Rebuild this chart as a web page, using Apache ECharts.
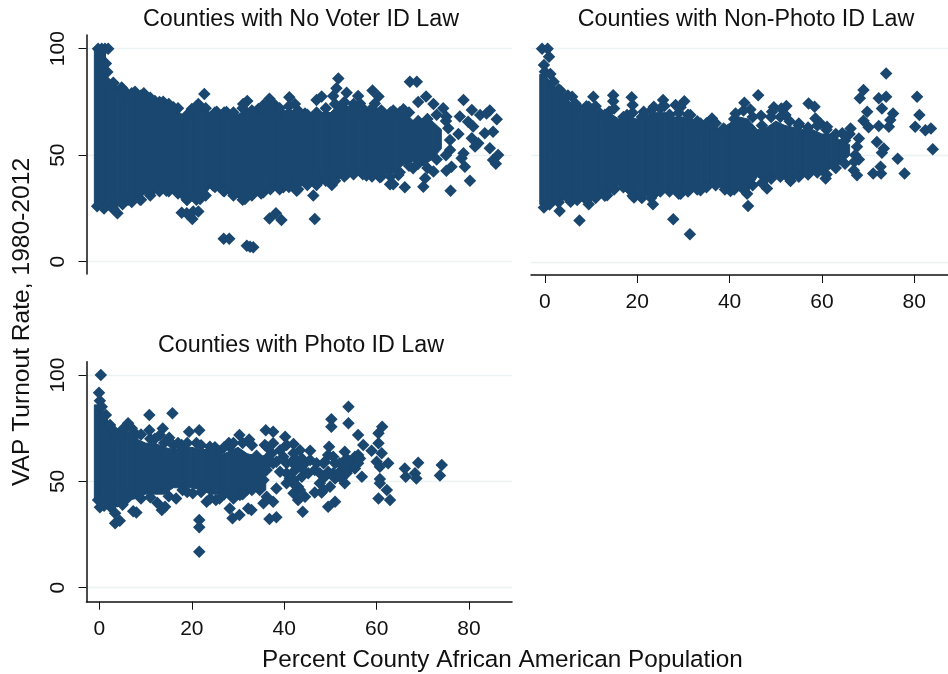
<!DOCTYPE html>
<html>
<head>
<meta charset="utf-8">
<style>html,body{margin:0;padding:0;background:#fff}#c{width:948px;height:674px}</style>
<script src="https://cdn.jsdelivr.net/npm/echarts@6/dist/echarts.min.js"></script>
</head>
<body>
<div id="c"></div>
<script>
const panelTitles = ['Counties with No Voter ID Law','Counties with Non-Photo ID Law','Counties with Photo ID Law'];
const xTitle = 'Percent County African American Population';
const yTitle = 'VAP Turnout Rate, 1980-2012';
const xTicks = [0,20,40,60,80];
const yTicks = [0,50,100];

// saturated core of each panel, where markers merge: [x, lowest y, highest y]
const noIdCore = [[-1.1,25,100],[1.2,25,100],[1.6,25,87],[4,26,82],[6,29,79],[8,29,78],[10,32,77],[12,33,75],[14,33,74],[16,33,72],[18,29,69],[20,29,71],[22,29,72],[24,35,70],[26,33,70],[28,32,70],[30,30,69],[32,29,72],[34,32,71],[36,33,74],[38,34,72],[40,35,71],[42,33,71],[44,36,69],[46,36,69],[48,38,70],[50,38,70],[52,39,74],[54,41,73],[56,41,73],[58,40,69],[60,40,72],[62,41,70],[64,42,70],[66,46,70],[68,47,66],[70,45,66],[72,48,66],[74,53,62]];
const nonPhotoCore = [[-1.1,27,88],[0,27,88],[2,28,82],[4,29,78],[6,30,74],[8,29,72],[10,29,73],[12,31,69],[14,32,70],[16,36,67],[18,32,68],[20,31,67],[22,31,69],[24,30,70],[26,34,70],[28,32,68],[30,33,68],[32,34,67],[34,34,64],[36,36,65],[38,35,62],[40,34,65],[42,35,68],[44,33,67],[46,40,62],[48,37,63],[50,40,66],[52,39,64],[54,39,63],[56,41,62],[58,42,62],[60,41,60],[62,44,60],[64,46,57],[66,50,55]];
const photoCore = [[-1.1,42,86],[0,42,86],[2,39,78],[4,38,70],[6,41,74],[8,42,70],[10,44,68],[12,44,68],[14,44,66],[16,47,65],[18,47,66],[20,47,66],[22,46,65],[24,44,65],[26,44,62],[28,42,64],[30,43,66],[32,47,63],[34,48,62],[36,46,62]];

// individually visible counties: [percent African American, turnout]
const noIdPoints = [[-.3,100],[.5,100],[1.2,100],[1.9,100],[1.4,93],[1.7,89],[3,83.7],[4.8,81.8],[5.9,79],[7.7,79.8],[9.6,79],[12,75.4],[13.8,75.1],[16,72.5],[20,71.7],[21.4,74],[22.7,78.7],[25.4,70.4],[27.5,70.3],[32,75.4],[31.1,74],[34.4,71.7],[36.8,76.5],[35.5,73.5],[38,73.5],[41.1,77.2],[42.3,74],[44.5,69.6],[47,75.9],[48.1,77.5],[50.6,77.8],[51.7,86],[51.3,81.4],[53.5,79.3],[56,77.8],[56.4,74.3],[59.1,80.3],[60.4,77.5],[59.6,74.3],[67.2,84.5],[68.7,84.5],[70.7,77.5],[69,75],[72.3,74],[74.4,72],[65.8,71.5],[63.6,70.9],[61.4,70],[57.8,69.6],[75.1,68],[75.5,62.6],[75.9,57.1],[75.9,52.4],
[78.8,75.9],[78,68.1],[77.7,59.9],[80.6,71.2],[82.4,68.9],[84.5,70.9],[83.8,69.6],[86,66.8],[79.8,65.7],[80.9,63.4],[85.2,61],[83.4,60.3],[80.6,57.9],[82,55.6],[81.3,54],[78.8,50.9],[78.4,48.5],[79.1,44.6],[84.5,53.2],[86.3,50.1],[85.2,47.7],[85.8,45.9],[80.2,38],[76,33.3],[76.2,44.6],[75.1,42.7],[72.3,42.3],[67.9,43.8],[66.1,34.9],[70.1,35.2],[70.5,39.1],[63.6,36.3],[62.9,36.3],[64.7,40.7],
[50.3,36],[46.3,31],[46.6,20],[39.4,19.6],[38.2,22.7],[36.8,20.3],[20.1,20],[20.3,23.5],[17.8,23],[18.9,22.7],[21.4,23.5],[28.1,10.8],[26.9,10.8],[31.9,7.5],[33.3,6.7],[32.6,7],
[-.5,26],[.8,25.5],[2.6,25.5],[3.9,22.7],[6.2,29],[8.8,29],[10.9,32.4],[14.5,33.3],[16.7,33.3],[18.9,29],[21.8,29.4],[24.6,35.7],[26.8,33.3],[31.5,29.4],[29,32],[35.5,32.6],[39.8,34.9],[42.7,33.3],[47.7,38],[53.5,41.2],[57.8,40.4],[60.7,39.6],
[3,84],[5,81],[7,79],[9,78],[11,77],[13,75],[15,74],[17,72],[19,69],[21,73],[23,72],[25,70],[27,70],[29,70],[31,72],[33,71],[35,72],[37,75],[39,72],[41,73],[43,71],[45,69],[47,70],[49,72],[51,74],[53,75],[55,74],[57,72],[59,72],[61,71],[63,70],[65,70],[67,70],[69,66],[71,67],[73,69],[75,66],
[1,25],[3,25],[5,27],[7,28],[9,29],[11,31],[13,33],[15,33],[17,32],[19,29],[21,29],[23,31],[25,35],[27,33],[29,31],[31,29],[33,31],[35,32],[37,34],[39,34],[41,35],[43,34],[45,36],[47,36],[49,38],[51,38],[53,40],[55,41],[57,41],[59,40],[61,40],[63,40],[65,42],[67,45],[69,46],[71,44],[73,48],[75,50]];

const nonPhotoPoints = [[-.6,100],[.6,100],[.9,96.2],[-.2,92.3],[0,89.2],[1.2,88.1],[1.9,84.5],[3.4,80.3],[5.9,77.5],[6.6,74.3],[10.5,77.5],[9.5,72.8],[12,69.6],[14.8,78.2],[14.8,75.4],[13.9,70.4],[18.8,77.2],[19,73.6],[17.8,68.9],[21.4,70.4],[23.6,72.8],[25.6,75.9],[25.9,73.1],[28.3,73.6],[30.2,75.4],[29.4,72.5],[31.5,68.9],[33.7,64.9],[36.2,67.3],[38.7,62.6],[41.3,69.6],[43.2,74.6],[44.5,71.5],[46.2,78.2],[46.8,68.5],[49.6,72.5],[49.2,70.4],[52.3,73.1],[51.2,72],[52.1,68.9],[57.1,74.3],[58.4,72.8],[58.6,67.3],[55,64.9],[59.7,64.9],[61.1,63.4],[66.2,62.6],[64.4,60.3],[68,57.9],[67.6,54],[67.2,50.1],[67,47],[68,48],[66,60],[65,57],
[69,80.6],[68.2,76.7],[72.3,76.7],[73.9,77.5],[73.9,88.4],[73,72],[69.8,70.4],[69,66.2],[70.1,63.1],[72.3,63.7],[74.5,63.4],[75.4,69.6],[74.8,66.5],[71.9,56.3],[73.4,53.2],[73,51.2],[76.4,48.4],[72.7,44.6],[71.1,41.5],[72.8,41.5],[77.9,41.5],[80.6,77.5],[81.1,68.9],[80.2,63.4],[82.4,61.8],[83.6,62.6],[84,52.9],[67.6,40.7],[66.9,43],
[-.2,25.5],[3.2,23.9],[7.5,19.4],[5.6,28.2],[9.5,27.1],[13.5,31.3],[19.3,30.2],[23.4,27.1],[27.8,20],[31.4,13],[29.4,32],[33.7,33.6],[40.2,33.3],[44,26.3],[43.8,32],[48.1,34.4],[53.2,38],[60.8,39.1],
[3,81],[5,78],[7,73],[9,73],[11,73],[13,69],[15,72],[17,68],[19,70],[21,68],[23,71],[25,72],[27,69],[29,70],[31,69],[33,66],[35,65],[37,65],[39,62],[41,67],[43,71],[45,68],[47,64],[49,68],[51,68],[53,66],[55,64],[57,63],[59,64],[61,62],[63,60],[65,59],
[1,27],[3,28],[5,30],[7,29],[9,29],[11,30],[13,31],[15,34],[17,35],[19,31],[21,30],[23,30],[25,33],[27,33],[29,32],[31,33],[33,34],[35,35],[37,36],[39,34],[41,34],[43,34],[45,36],[47,37],[49,39],[51,40],[53,39],[55,40],[57,41],[59,42],[61,41],[63,44],[65,46]];

const photoPoints = [[.3,100],[-.1,91.7],[.1,87.9],[.5,85.1],[1.4,81.2],[2.3,76.5],[6.2,77.3],[5.2,74.9],[10.8,81.2],[15.8,82],[10.8,74.1],[13.7,74.9],[13.1,71.8],[15.1,70.5],[19.4,73.4],[21.6,74.1],[17.8,67.1],[23.9,66.3],[30.3,71.8],[32.4,69.7],[28.2,66.3],[36,74.1],[37.6,73.4],[40.2,71],[42,67.6],[35.8,67.1],[45.6,64.4],[49.7,66.3],[50.2,79.2],[50.2,75.7],[53.9,85.1],[53.9,77.3],[56,71.8],[57.1,67.1],[53.1,63.9],[58.9,64.4],[60.4,67.9],[60.4,72.6],[61.2,75.7],[61.1,63.2],[60,59.2],[62.5,58.5],[60.7,56.9],[56,62.4],[66.1,56.1],[66.3,52.2],[69,58.8],[68.3,53.8],[68.6,51.4],[74.1,57.7],[73.7,52.8],[60.7,51.1],[60.7,49.1],[62.2,45.9],[60.4,42],[62.9,41.2],[56.8,52.2],[53.1,49.1],[51,40.4],[49.5,38.1],[44,35.7],[44.5,42.8],[43,41.2],[47.7,49.1],[46.6,44.8],[48.1,44.8],[42,44.4],[43,47.5],[38.3,46.7],[38.3,33.1],[36.8,32.3],[37.6,40.4],[35.5,39.7],[32.2,37.3],[32.9,36.5],[30.3,34.2],[28.8,32.6],[28.2,37.3],[21.6,31.8],[21.6,28.4],[21.6,16.9],[25.2,41.2],[23.2,40.4],[20.2,44.4],[16.6,42],[13.5,36.5],[14.2,38.1],[8,35.4],[7.3,36],[3.4,30.3],[4.4,31.5],[3.4,35],[.1,37.8],[-.3,41.2],[30.4,43.6],[31.9,45.9],[29,42],
[36.2,66.3],[37.6,67.9],[39.1,64.7],[40.5,67.1],[42,63.2],[43.4,64.7],[36.2,60.8],[38.3,59.2],[40.5,58.5],[42.7,60],[44.5,58.5],[46.6,55.3],[42,54.5],[43.8,52.2],[41.2,51.4],[42.3,48.3],[43.4,45.9],[39.1,54.5],[36.2,55.3],[35.5,50.6],[34.7,45.9],[36.2,42.8],[49.5,62.4],[51,58.5],[48.5,58.5],[50.6,53.8],[52,54.5],[53.5,55.3],[54.9,58.5],[56.4,60.8],[55.3,61.6],[54.2,59.2],[53.5,60.8],[47.7,53.8],[49.9,47.5],[48.5,45.9],[51,51.4],[52.4,51.4],
[36.2,57.7],[37.3,63.2],[39.8,61.6],[41.6,59.2],[43.8,60.8],[45.6,60],[47,58.5],[43.8,56.1],[40.5,53.8],[37.6,58.5],[42.7,56.9],[45.2,53.8],[40.5,49.1],[42,50.6],[48.8,59.2],[50.6,61.6],[52,58.5],[54.2,56.1],[56,58.5],[55.3,56.1],[53.5,53.8],[52.8,56.9],[49.5,54.5],[48.8,52.2],
[1,38.5],[2.4,38],[5,39],[6,42],[9,42],[11,42.5],[12.5,40],[15,43],[18,46],[19,45],[22,45],[24,42],[26,42],[27,44],[29,43],[31,44],[33,46],[34,48],
[3,74],[4,72],[7,75],[8,72],[9,72],[11,70],[12,70],[14,68],[16,67],[17,68],[19,68],[21,68],[22,67],[25,66],[26,64],[27,66],[28,68],[29,68],[31,68],[33,67],[34,62]];

const NAVY = '#1a476f', GRID = '#eaf2f3', FONT = '"Liberation Sans", Arial, sans-serif';

function coreRenderer(core) {
  return function (params, api) {
    const next = core[params.dataIndex + 1];
    if (!next) return null;
    const cur = core[params.dataIndex];
    return { type:'polygon',
      shape:{ points:[ api.coord([cur[0],cur[2]]), api.coord([next[0],next[2]]), api.coord([next[0],next[1]]), api.coord([cur[0],cur[1]]) ] },
      style:{ fill:NAVY, stroke:NAVY, lineWidth:1 } };
  };
}
function pair(i, core, points) {
  return [
    { type:'custom', xAxisIndex:i, yAxisIndex:i, data:core, renderItem:coreRenderer(core), encode:{x:0,y:[1,2]}, silent:true, clip:false },
    { type:'scatter', xAxisIndex:i, yAxisIndex:i, data:points, symbol:'diamond', symbolSize:12.5, itemStyle:{color:NAVY, opacity:1}, silent:true, clip:false }
  ];
}
function xAxis(i, min, max, show) {
  return { type:'value', gridIndex:i, min, max, show,
    axisLine:{show:true, onZero:false, lineStyle:{color:'#111', width:1.5}},
    axisTick:{show:true, length:8, lineStyle:{color:'#111', width:1}, customValues:xTicks},
    axisLabel:{show:true, color:'#111', fontFamily:FONT, fontSize:21, margin:17, customValues:xTicks},
    splitLine:{show:false} };
}
function yAxis(i, min, max, showAxis) {
  return { type:'value', gridIndex:i, min, max,
    axisLine:{show:showAxis, onZero:false, lineStyle:{color:'#111', width:1.5}},
    axisTick:{show:showAxis, length:8, lineStyle:{color:'#111', width:1}, customValues:yTicks},
    axisLabel:{show:showAxis, rotate:90, color:'#111', fontFamily:FONT, fontSize:21, margin:18, customValues:yTicks},
    splitLine:{show:true, lineStyle:{color:GRID, width:1.4}} };
}
const titleStyle = {fontFamily:FONT,fontWeight:'normal',fontSize:23.3,color:'#111'};
const chart = echarts.init(document.getElementById('c'), null, {renderer:'canvas'});
chart.setOption({
  animation:false,
  backgroundColor:'#fff',
  title:[
    {text:panelTitles[0], left:296, top:3, textAlign:'center', textStyle:titleStyle},
    {text:panelTitles[1], left:741, top:3, textAlign:'center', textStyle:titleStyle},
    {text:panelTitles[2], left:296, top:329, textAlign:'center', textStyle:titleStyle}
  ],
  grid:[
    {left:86.5, top:35, width:425.5, height:239},
    {left:531, top:35, width:417, height:240},
    {left:86.5, top:361.7, width:425.5, height:240}
  ],
  xAxis:[xAxis(0,-2.8,89.3,false), xAxis(1,-3,87.3,true), xAxis(2,-2.8,89.3,true)],
  yAxis:[yAxis(0,-5.8,106.4,true), yAxis(1,-6.1,106.4,false), yAxis(2,-6.6,106.3,true)],
  series:[...pair(0,noIdCore,noIdPoints), ...pair(1,nonPhotoCore,nonPhotoPoints), ...pair(2,photoCore,photoPoints)],
  graphic:[
    {type:'text', left:262, top:648, style:{text:xTitle, fontFamily:FONT, fontSize:24.3, fill:'#111'}},
    {type:'text', x:22, y:322, rotation:Math.PI/2, style:{text:yTitle, fontFamily:FONT, fontSize:24.6, fill:'#111', textAlign:'center', textVerticalAlign:'middle'}}
  ]
});
</script>
</body>
</html>
